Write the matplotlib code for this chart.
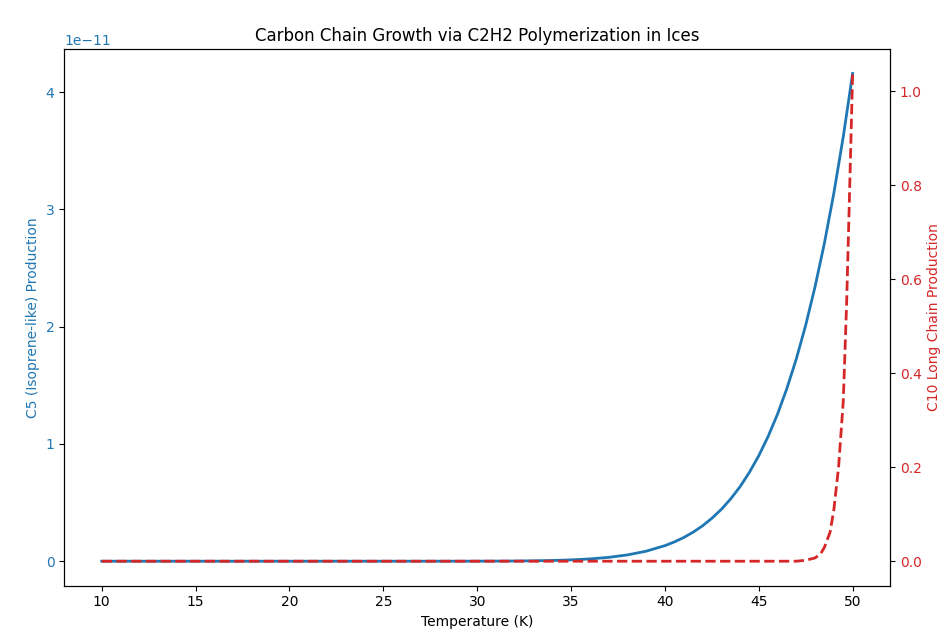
import matplotlib
matplotlib.use("Agg")
import matplotlib.pyplot as plt

# Temperature grid (K) and C5 (isoprene-like) production
temp_c5 = [10, 11, 12, 13, 14, 15, 16, 17, 18, 19, 20, 21, 22, 23, 24, 25,
           26, 27, 28, 29, 30, 31, 32, 33, 34, 35, 36, 37, 38, 39, 40,
           40.5, 41, 41.5, 42, 42.5, 43, 43.5, 44, 44.5, 45, 45.5, 46, 46.5,
           47, 47.5, 48, 48.5, 49, 49.5, 50]
c5_production = [0, 0, 0, 0, 0, 0, 0, 0, 0, 0, 0, 0, 0, 0, 0, 0,
                 0, 0, 0.0001e-11, 0.0002e-11, 0.0004e-11, 0.0009e-11, 0.0018e-11,
                 0.0034e-11, 0.0063e-11, 0.0113e-11, 0.0196e-11, 0.0328e-11,
                 0.0536e-11, 0.0854e-11, 0.1328e-11,
                 0.1642e-11, 0.2020e-11, 0.2474e-11, 0.3014e-11, 0.366e-11,
                 0.4414e-11, 0.531e-11, 0.635e-11, 0.758e-11, 0.900e-11,
                 1.065e-11, 1.255e-11, 1.475e-11, 1.726e-11, 2.014e-11,
                 2.343e-11, 2.716e-11, 3.140e-11, 3.620e-11, 4.16e-11]

# C10 long chain production
temp_c10 = [10, 15, 20, 25, 30, 35, 40, 45, 47, 47.5, 48, 48.3, 48.5, 48.8,
            49, 49.25, 49.5, 49.68, 49.82, 50]
c10_production = [0, 0, 0, 0, 0, 0, 0, 0, 0, 0.002, 0.007, 0.016, 0.030, 0.062,
                  0.11, 0.20, 0.34, 0.55, 0.76, 1.038]

fig, ax1 = plt.subplots(figsize=(9.44, 6.29), dpi=100)
fig.subplots_adjust(left=0.068, right=0.943, top=0.922, bottom=0.069)

c1 = "tab:blue"
c2 = "tab:red"

ax1.plot(temp_c5, c5_production, color=c1, linewidth=2)
ax1.set_xlabel("Temperature (K)")
ax1.set_ylabel("C5 (Isoprene-like) Production", color=c1)
ax1.tick_params(axis="y", labelcolor=c1)
ax1.yaxis.get_offset_text().set_color(c1)

ax2 = ax1.twinx()
ax2.plot(temp_c10, c10_production, color=c2, linewidth=2, linestyle="--")
ax2.set_ylabel("C10 Long Chain Production", color=c2)
ax2.tick_params(axis="y", labelcolor=c2)

ax1.set_title("Carbon Chain Growth via C2H2 Polymerization in Ices")

fig.savefig("out.png", dpi=100)
